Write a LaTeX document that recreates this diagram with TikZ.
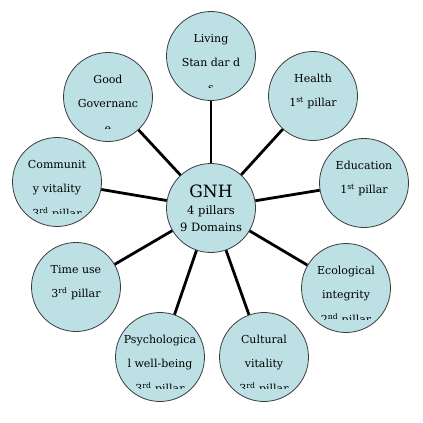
\documentclass[tikz,border=0pt]{standalone}
\usepackage{fontspec}
\setmainfont{DejaVu Serif}
\definecolor{bubfill}{RGB}{188,224,228}
\definecolor{bubline}{RGB}{60,60,60}
\tikzset{
  bub/.style={circle, draw=bubline, fill=bubfill, minimum size=89pt, inner sep=0pt, line width=0.8pt},
  lbl/.style={font=\fontsize{11}{11}\selectfont, inner sep=0pt, anchor=base},
  gnhbig/.style={font=\fontsize{17}{17}\selectfont, inner sep=0pt, anchor=base},
  gnhsmall/.style={font=\fontsize{11.5}{12}\selectfont, inner sep=0pt, anchor=base},
  spoke/.style={line width=2.8pt}
}
% three-line bubble with clipped third line
\newcommand\bubthree[6]{%
  \node[bub] (#1) at (#2,#3) {};
  \begin{scope}
    \clip (#2-44,#3-44) rectangle (#2+44,#3+31);
    \node[lbl] (#1-a) at (#2,#3-14) {#4};
    \node[lbl] (#1-b) at (#2,#3+10) {#5};
    \node[lbl] (#1-c) at (#2,#3+35) {#6};
  \end{scope}}
\newcommand\bubtwo[5]{%
  \node[bub] (#1) at (#2,#3) {};
  \node[lbl] (#1-a) at (#2,#3-14) {#4};
  \node[lbl] (#1-b) at (#2,#3+10) {#5};}
\begin{document}
\begin{tikzpicture}[x=1pt,y=-1pt]
\useasboundingbox (0,0) rectangle (423,423);
\node[bub] (gnh) at (211,208) {};
\bubthree{ls}{211}{56}{Living}{Stan dar d}{s}
\bubthree{gg}{108}{97}{Good}{Governanc}{e}
\bubtwo{he}{313}{96}{Health}{1\textsuperscript{st} pillar}
\bubthree{cv}{57}{182}{Communit}{y vitality}{3\textsuperscript{rd} pillar}
\bubtwo{ed}{364}{183}{Education}{1\textsuperscript{st} pillar}
\bubtwo{tu}{76}{287}{Time use}{3\textsuperscript{rd} pillar}
\bubthree{ei}{346}{288}{Ecological}{integrity}{2\textsuperscript{nd} pillar}
\bubthree{pw}{160}{357}{Psychologica}{l well-being}{3\textsuperscript{rd} pillar}
\bubthree{cu}{264}{357}{Cultural}{vitality}{3\textsuperscript{rd} pillar}
\foreach \t in {ls,gg,he,cv,ed,tu,ei,pw,cu}
  \draw[spoke] (gnh) -- (\t);
\node[gnhbig] (gnh-a) at (211,197) {GNH};
\node[gnhsmall] (gnh-b) at (211,214) {4 pillars};
\node[gnhsmall] (gnh-c) at (211,231) {9 Domains};
\end{tikzpicture}
\end{document}
